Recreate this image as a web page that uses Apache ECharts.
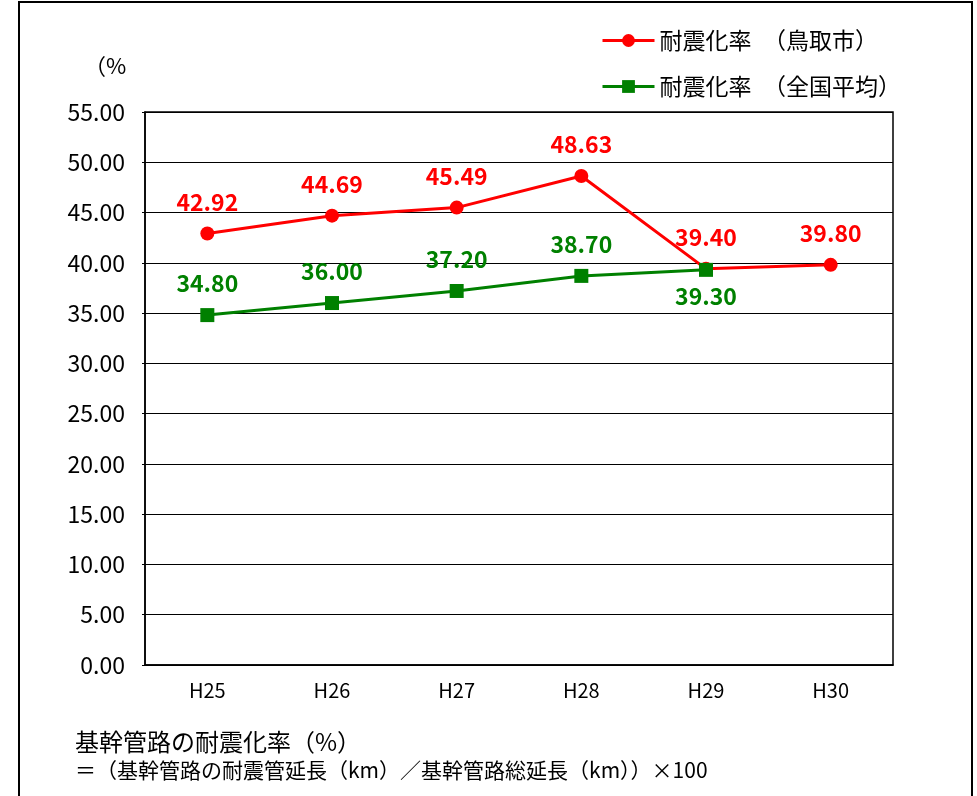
<!DOCTYPE html>
<html>
<head>
<meta charset="utf-8">
<script src="https://cdn.jsdelivr.net/npm/echarts@6/dist/echarts.min.js"></script>
<style>
  html, body { margin: 0; padding: 0; background: #fff; }
  #main { width: 977px; height: 796px; }
</style>
</head>
<body>
<div id="main"></div>
<script>
// 年度と耐震化率
var years = ['H25', 'H26', 'H27', 'H28', 'H29', 'H30'];
var tottori = [42.92, 44.69, 45.49, 48.63, 39.40, 39.80];
var national = [34.80, 36.00, 37.20, 38.70, 39.30, null];
var seriesNames = ['耐震化率\u3000（鳥取市）', '耐震化率\u3000（全国平均）'];
var yMin = 0, yMax = 55, yStep = 5;

var myChart = echarts.init(document.getElementById('main'));
var jp = '"Noto Sans CJK JP", sans-serif';

// H29 の全国平均ラベルだけ点の下に出す
var nationalData = national.map(function (v, i) {
    if (i === 4) return { value: v, label: { position: 'bottom', distance: 8 } };
    return v;
});

var dataLabel = function (color) {
    return {
        show: true,
        position: 'top',
        distance: 13,
        fontFamily: jp,
        fontSize: 23,
        fontWeight: 'bold',
        color: color,
        formatter: function (p) { return p.value.toFixed(2); }
    };
};

var option = {
    backgroundColor: '#fff',
    animation: false,
    legend: {
        orient: 'vertical',
        left: 596,
        top: 24,
        itemWidth: 52,
        itemHeight: 16,
        itemGap: 23,
        lineStyle: { width: 3 },
        textStyle: { fontFamily: jp, fontSize: 23, color: '#000' },
        data: seriesNames
    },
    grid: {
        left: 145,
        right: 84,
        top: 112,
        bottom: 131,
        show: true,
        borderColor: '#000',
        borderWidth: 1.5
    },
    xAxis: {
        type: 'category',
        data: years,
        axisLine: { lineStyle: { color: '#000', width: 1.5 } },
        axisTick: { inside: true, length: 5, lineStyle: { color: '#000' } },
        axisLabel: { margin: 15, fontFamily: jp, fontSize: 20, color: '#000' }
    },
    yAxis: {
        type: 'value',
        min: yMin,
        max: yMax,
        interval: yStep,
        axisLine: { show: true, lineStyle: { color: '#000', width: 1.5 } },
        axisTick: { show: true, length: 3, lineStyle: { color: '#000' } },
        splitLine: { lineStyle: { color: '#000', width: 1 } },
        axisLabel: {
            margin: 20,
            fontFamily: jp,
            fontSize: 23,
            color: '#000',
            formatter: function (v) { return v.toFixed(2); }
        }
    },
    graphic: [
        {
            type: 'rect',
            shape: { x: 19, y: 2, width: 953, height: 820 },
            style: { fill: 'none', stroke: '#000', lineWidth: 2 },
            silent: true
        },
        {
            type: 'text', left: 84, top: 55,
            style: { text: '（%', font: '22px ' + jp, fill: '#000' }
        },
        {
            type: 'text', left: 75, top: 730,
            style: { text: '基幹管路の耐震化率（%）', font: '24px ' + jp, fill: '#000' }
        },
        {
            type: 'text', left: 75, top: 760,
            style: { text: '＝（基幹管路の耐震管延長（km）／基幹管路総延長（km））×100', font: '21px ' + jp, fill: '#000' }
        }
    ],
    series: [
        {
            name: seriesNames[0],
            type: 'line',
            data: tottori,
            z: 2,
            symbol: 'circle',
            symbolSize: 14,
            color: '#ff0000',
            lineStyle: { width: 3, color: '#ff0000' },
            label: dataLabel('#ff0000')
        },
        {
            name: seriesNames[1],
            type: 'line',
            data: nationalData,
            z: 3,
            symbol: 'rect',
            symbolSize: 14,
            color: '#008000',
            lineStyle: { width: 3, color: '#008000' },
            label: dataLabel('#008000')
        }
    ]
};
myChart.setOption(option);
</script>
</body>
</html>
